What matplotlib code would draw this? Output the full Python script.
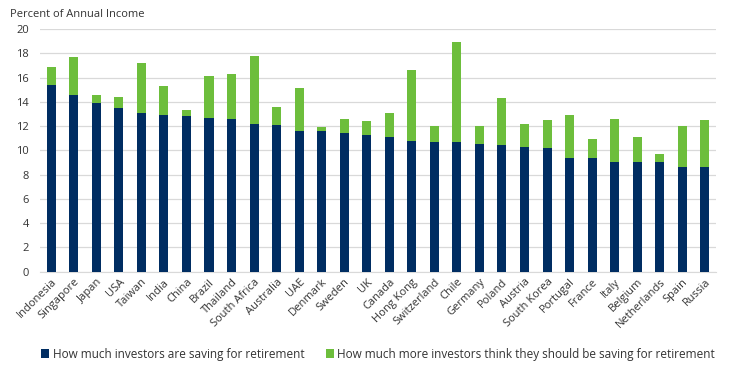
import numpy as np
import matplotlib
matplotlib.use('Agg')
import matplotlib.pyplot as plt

plt.rcParams['font.family'] = ['Open Sans', 'DejaVu Sans']

countries = ['Indonesia', 'Singapore', 'Japan', 'USA', 'Taiwan', 'India', 'China', 'Brazil',
             'Thailand', 'South Africa', 'Australia', 'UAE', 'Denmark', 'Sweden', 'UK', 'Canada',
             'Hong Kong', 'Switzerland', 'Chile', 'Germany', 'Poland', 'Austria', 'South Korea',
             'Portugal', 'France', 'Italy', 'Belgium', 'Netherlands', 'Spain', 'Russia']
# saving now
saving = [15.4, 14.6, 13.9, 13.5, 13.1, 12.9, 12.8, 12.7, 12.6, 12.2, 12.1, 11.6, 11.6, 11.4, 11.3,
          11.1, 10.8, 10.7, 10.7, 10.5, 10.4, 10.3, 10.2, 9.4, 9.4, 9.0, 9.0, 9.0, 8.6, 8.6]
# what they think they should save (total)
should = [16.9, 17.7, 14.6, 14.4, 17.2, 15.3, 13.3, 16.1, 16.3, 17.8, 13.6, 15.1, 11.95, 12.6, 12.4,
          13.1, 16.6, 12.0, 18.95, 12.0, 14.3, 12.2, 12.5, 12.9, 10.95, 12.6, 11.1, 9.7, 12.0, 12.5]

navy = '#002D62'
green = '#6DBE3C'

saving = np.array(saving)
extra = np.array(should) - saving
x = np.arange(len(countries))

fig = plt.figure(figsize=(7.34, 3.84), dpi=100)
ax = fig.add_axes([0.0545, 0.2925, 0.921, 0.632])
ax.bar(x, saving, width=0.4, color=navy, label='How much investors are saving for retirement', zorder=3)
ax.bar(x, extra, width=0.4, bottom=saving, color=green,
       label='How much more investors think they should be saving for retirement', zorder=3)

ax.set_xlim(-0.5, len(countries) - 0.5)
ax.set_ylim(0, 20)
ax.set_yticks(np.arange(0, 21, 2))
ax.yaxis.grid(True, color='#D9D9D9', linewidth=0.9, zorder=0)
for s in ['top', 'right', 'left']:
    ax.spines[s].set_visible(False)
ax.spines['bottom'].set_color('#D9D9D9')
ax.tick_params(axis='both', length=0, labelsize=8, colors='#333333')
ax.tick_params(axis='y', pad=8)
ax.set_xticks(x)
ax.set_xticklabels(countries, rotation=45, ha='right', rotation_mode='anchor', fontsize=8)

fig.text(0.014, 0.962, 'Percent of Annual Income', fontsize=8, color='#333333', va='center')

ax.legend(loc='center', bbox_to_anchor=(0.5, -0.34), ncol=2, frameon=False, fontsize=8.5,
          handlelength=0.7, handleheight=0.7, handletextpad=0.3, columnspacing=1.8,
          labelcolor='#333333')

fig.savefig('out.png', dpi=100)
